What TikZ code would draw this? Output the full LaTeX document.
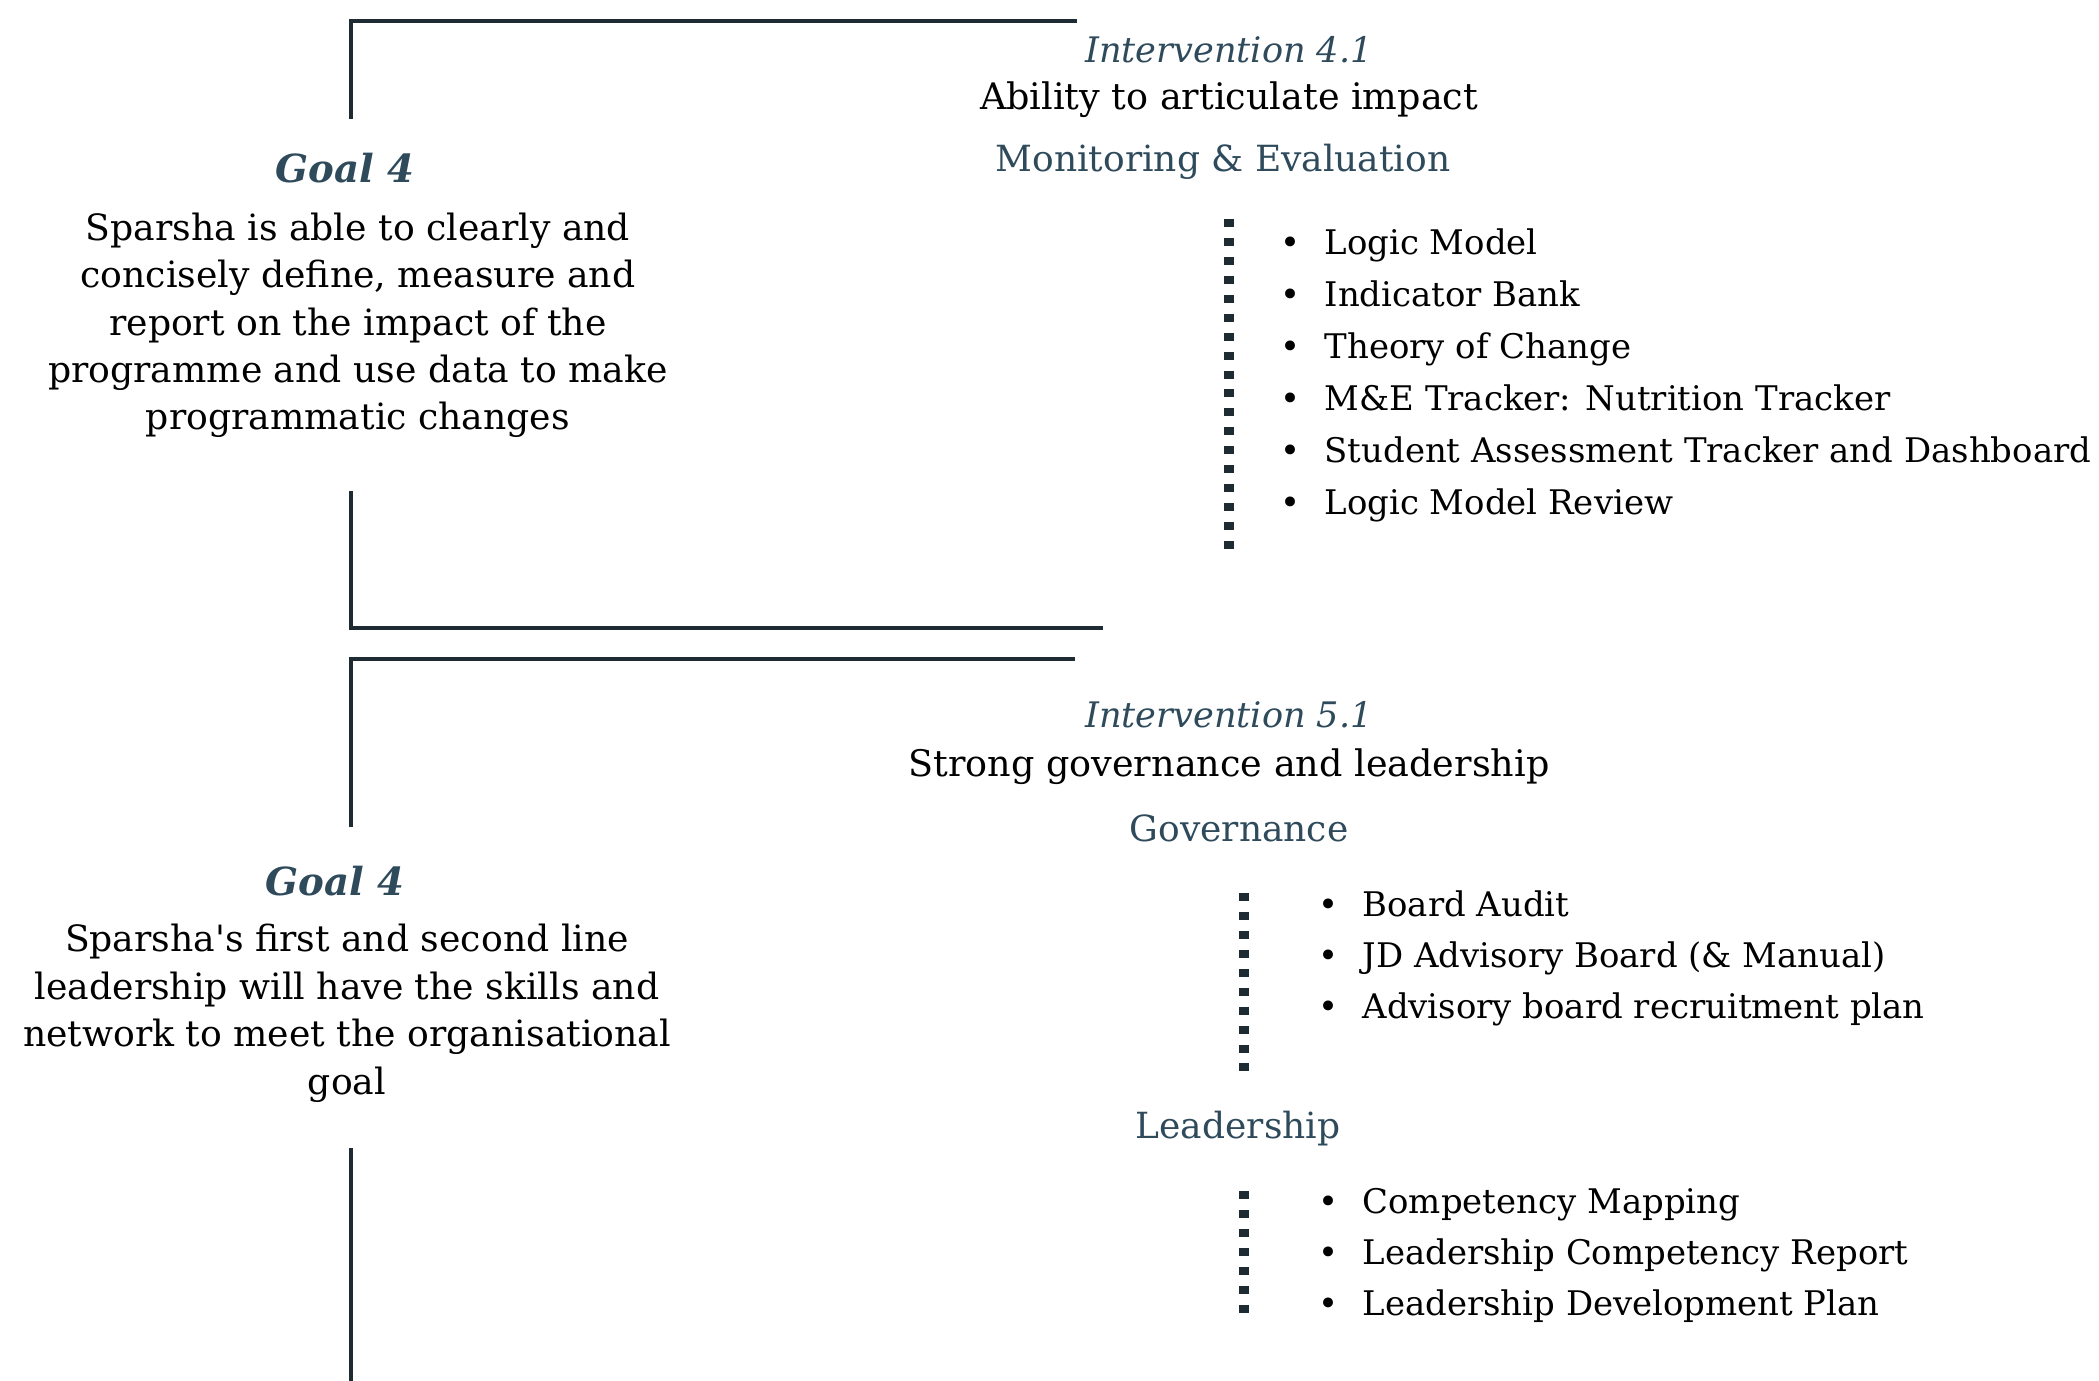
\documentclass[tikz,border=0pt]{standalone}
\usepackage{fontspec}
\setmainfont{DejaVu Serif}
\usetikzlibrary{
	positioning
}
\definecolor{ink}{HTML}{1F2B33}
\definecolor{slate}{HTML}{2E4A5B}
\tikzset{
	bracket/.style={line width=1.15pt, draw=ink, line join=miter},
	dotline/.style={line width=2.6pt, draw=ink, dash pattern=on 2.27pt off 3.12pt},
	goaltitle/.style={font=\fontsize{11}{14}\selectfont\bfseries\itshape, text=slate, anchor=base, inner sep=0pt},
	goaltext/.style={font=\fontsize{10.3}{13.5}\selectfont, align=center, anchor=base, inner sep=0pt},
	intervention/.style={font=\fontsize{10}{12}\selectfont\itshape, text=slate, anchor=base, inner sep=0pt},
	aim/.style={font=\fontsize{10.4}{12}\selectfont, anchor=base, inner sep=0pt},
	area/.style={font=\fontsize{10.25}{12}\selectfont, text=slate, anchor=base, inner sep=0pt},
	item/.style={font=\fontsize{9.65}{12}\selectfont, anchor=base west, inner sep=0pt}
}

\begin{document}
\begin{tikzpicture}
	\useasboundingbox (0,0) rectangle (20.99,-13.81);

	% goal 4, first block
	\draw[bracket] (10.77,-0.21) -- (3.51,-0.21) -- (3.51,-1.19);
	\draw[bracket] (3.51,-4.91) -- (3.51,-6.28) -- (11.03,-6.28);

	\node[goaltitle] (g1) at (3.45,-1.83) {Goal 4};
	\node[goaltext] (g1text) at (3.58,-4.30) {Sparsha is able to clearly and\\
		concisely define, measure and\\
		report on the impact of the\\
		programme and use data to make\\
		programmatic changes};

	\node[intervention] (i41) at (12.29,-0.63) {Intervention 4.1};
	\node[aim] (aim41) at (12.29,-1.10) {Ability to articulate impact};
	\node[area] (me) at (12.23,-1.72) {Monitoring \& Evaluation};

	\draw[dotline] (12.29,-2.19) -- (12.29,-5.50);
	\foreach \txt [count=\i] in {Logic Model, Indicator Bank, Theory of Change,
		M\&E Tracker: Nutrition Tracker, Student Assessment Tracker and Dashboard,
		Logic Model Review}
		\node[item] (me\i) at (12.80,{-2.55-0.52*(\i-1)}) {\textbullet\hspace{6.8pt}\txt};

	% goal 4, second block
	\draw[bracket] (10.75,-6.59) -- (3.51,-6.59) -- (3.51,-8.27);
	\draw[bracket] (3.51,-11.48) -- (3.51,-13.81);

	\node[goaltitle] (g2) at (3.35,-8.95) {Goal 4};
	\node[goaltext] (g2text) at (3.47,-10.94) {Sparsha\textquotesingle s first and second line\\
		leadership will have the skills and\\
		network to meet the organisational\\
		goal};

	\node[intervention] (i51) at (12.29,-7.28) {Intervention 5.1};
	\node[aim] (aim51) at (12.29,-7.77) {Strong governance and leadership};
	\node[area] (gov) at (12.39,-8.42) {Governance};

	\draw[dotline] (12.44,-8.93) -- (12.44,-10.72);
	\foreach \txt [count=\i] in {Board Audit, JD Advisory Board (\& Manual),
		Advisory board recruitment plan}
		\node[item] (gov\i) at (13.18,{-9.17-0.505*(\i-1)}) {\textbullet\hspace{6.8pt}\txt};

	\node[area] (lead) at (12.38,-11.38) {Leadership};

	\draw[dotline] (12.44,-11.91) -- (12.44,-13.13);
	\foreach \txt [count=\i] in {Competency Mapping, Leadership Competency Report,
		Leadership Development Plan}
		\node[item] (lead\i) at (13.18,{-12.13-0.51*(\i-1)}) {\textbullet\hspace{6.8pt}\txt};
\end{tikzpicture}
\end{document}
